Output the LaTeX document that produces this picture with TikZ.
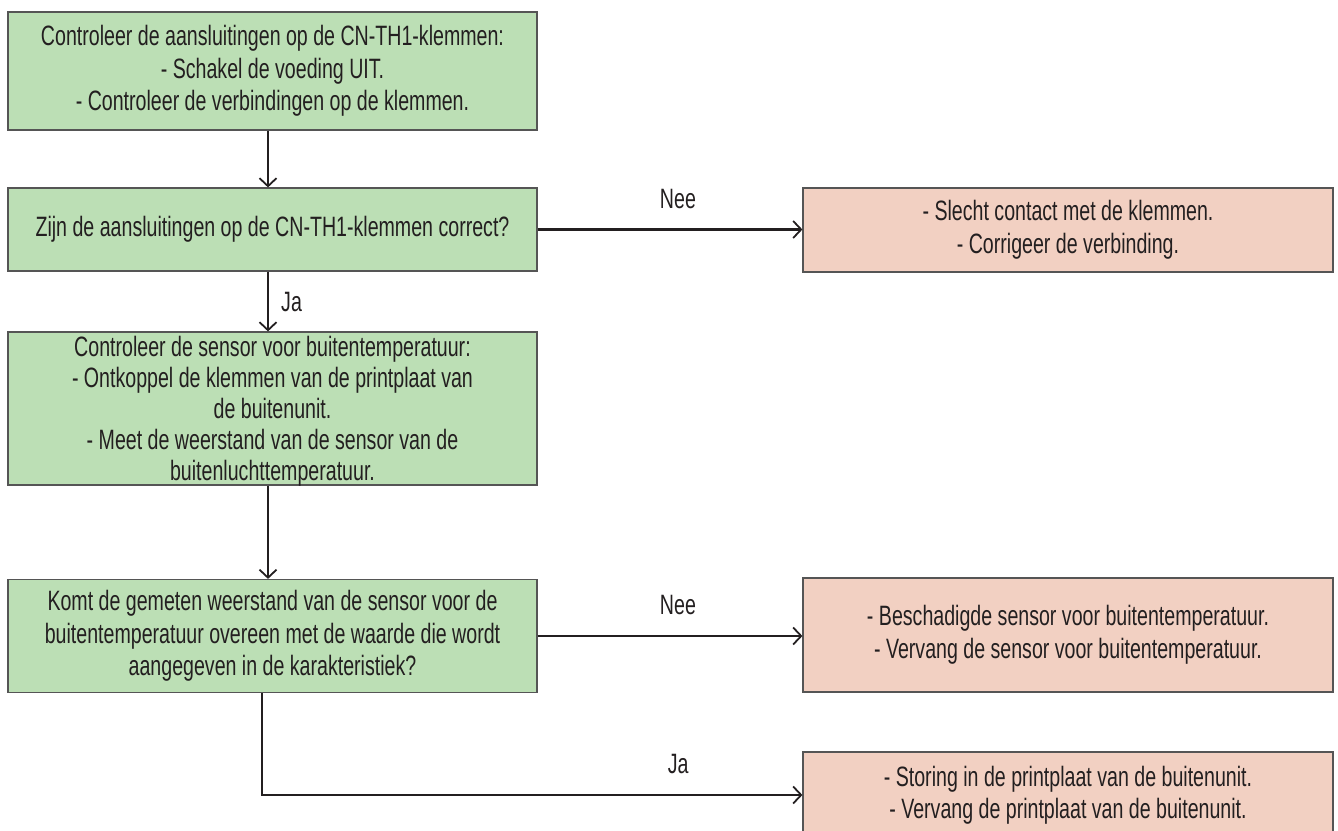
\documentclass[tikz,border=0pt]{standalone}
\usepackage{fontspec}
\setmainfont{Liberation Sans}[FakeStretch=0.70]
\usetikzlibrary{arrows.meta}
\definecolor{gfill}{HTML}{BCDFB5}
\definecolor{pfill}{HTML}{F2D0C2}
\definecolor{bord}{HTML}{555555}
\definecolor{ink}{HTML}{231F20}
\tikzset{
  box/.style={draw=bord, line width=1.2pt, minimum width=529pt, align=center, inner sep=0pt,
    text=ink, font=\fontsize{28}{32.5}\selectfont},
  gbox/.style={box, fill=gfill},
  pbox/.style={box, fill=pfill, minimum width=530pt},
  conn/.style={draw=ink, line width=2.4pt, -{Straight Barb[length=8pt,width=17pt,line width=1.8pt]}},
  lbl/.style={text=ink, font=\fontsize{28}{30}\selectfont, inner sep=0pt}
}
\begin{document}
\begin{tikzpicture}[x=1pt,y=-1pt]
\useasboundingbox (0,0) rectangle (1338,830);
\node[gbox, minimum height=118pt] (b1) at (272.5,71)
  {Controleer de aansluitingen op de CN-TH1-klemmen:\\- Schakel de voeding UIT.\\- Controleer de verbindingen op de klemmen.};
\node[gbox, minimum height=83pt] (b2) at (272.5,229.5)
  {Zijn de aansluitingen op de CN-TH1-klemmen correct?};
\node[gbox, minimum height=153pt, font=\fontsize{28}{31}\selectfont, text depth=0pt] (b3) at (272.5,408.5)
  {\raisebox{-3pt}{}Controleer de sensor voor buitentemperatuur:\\- Ontkoppel de klemmen van de printplaat van\\de buitenunit.\\- Meet de weerstand van de sensor van de\\buitenluchttemperatuur.};
\node[gbox, minimum height=113pt] (b4) at (272.5,636)
  {Komt de gemeten weerstand van de sensor voor de\\buitentemperatuur overeen met de waarde die wordt\\aangegeven in de karakteristiek?};
\node[pbox, minimum height=84pt] (p1) at (1068,230)
  {- Slecht contact met de klemmen.\\- Corrigeer de verbinding.};
\node[pbox, minimum height=114pt] (p2) at (1068,635)
  {- Beschadigde sensor voor buitentemperatuur.\\- Vervang de sensor voor buitentemperatuur.};
\node[pbox, minimum height=86pt] (p3) at (1068,795)
  {- Storing in de printplaat van de buitenunit.\\- Vervang de printplaat van de buitenunit.};

\draw[conn] ([xshift=-4.5pt]b1.south) -- ([xshift=-4.5pt]b2.north);
\draw[conn] ([xshift=-4.5pt]b2.south) -- node[lbl, right=12pt, pos=0.5] (ja1) {Ja} ([xshift=-4.5pt]b3.north);
\draw[conn] ([xshift=-4.5pt]b3.south) -- ([xshift=-4.5pt]b4.north);
\draw[conn] (b2.east) -- node[lbl, above=20pt, pos=0.53] (nee1) {Nee} (p1.west |- b2.east);
\draw[conn] (b4.east) -- node[lbl, above=20pt, pos=0.53] (nee2) {Nee} (p2.west |- b4.east);
\draw[conn] ([xshift=-10.5pt]b4.south) |- node[lbl, above=20pt, pos=0.885] (ja2) {Ja} (p3.west);
\end{tikzpicture}
\end{document}
